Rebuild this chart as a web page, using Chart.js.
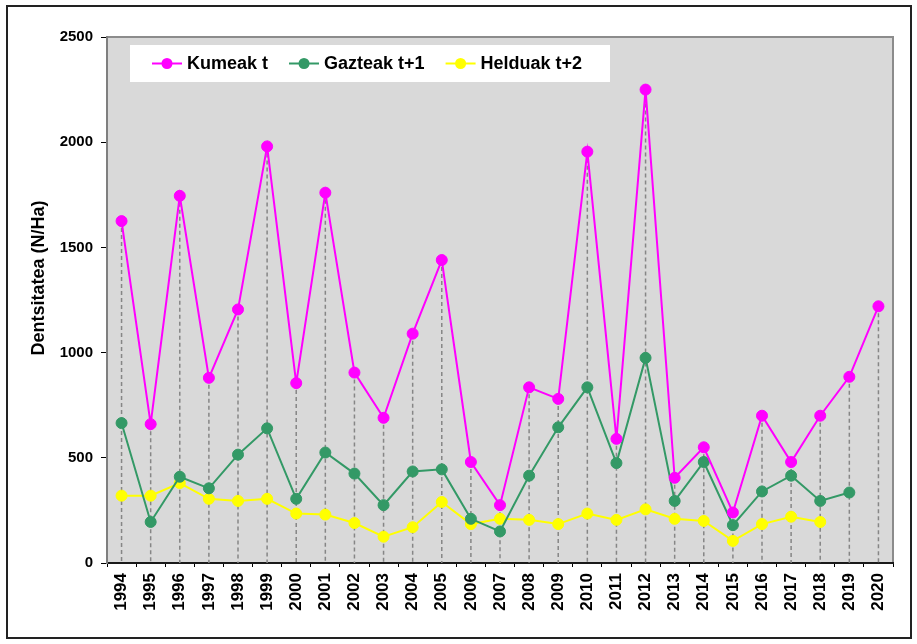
<!DOCTYPE html>
<html>
<head>
<meta charset="utf-8">
<script src="https://cdn.jsdelivr.net/npm/chart.js@4.4.1/dist/chart.umd.min.js"></script>
<style>
  html, body { margin: 0; padding: 0; background: #fff; }
  #wrap { width: 917px; height: 644px; }
</style>
</head>
<body>
<div id="wrap"><canvas id="myChart" width="917" height="644"></canvas></div>
<script>
let years = ["1994", "1995", "1996", "1997", "1998", "1999", "2000", "2001", "2002",
  "2003", "2004", "2005", "2006", "2007", "2008", "2009", "2010", "2011", "2012",
  "2013", "2014", "2015", "2016", "2017", "2018", "2019", "2020"];

let kumeak = [1625, 660, 1745, 880, 1205, 1980, 855, 1760, 905, 690, 1090, 1440, 480,
  275, 835, 780, 1955, 590, 2250, 405, 550, 240, 700, 480, 700, 885, 1220];
let gazteak = [665, 195, 410, 355, 515, 640, 305, 525, 425, 275, 435, 445, 210,
  150, 415, 645, 835, 475, 975, 295, 480, 180, 340, 415, 295, 335, null];
let helduak = [320, 320, 380, 305, 295, 305, 235, 230, 190, 125, 170, 290, 185,
  210, 205, 185, 235, 205, 255, 210, 200, 105, 185, 220, 195, null, null];

let seriesNames = ["Kumeak t", "Gazteak t+1", "Helduak t+2"];
let yTicks = [0, 500, 1000, 1500, 2000, 2500];
let yTitle = "Dentsitatea (N/Ha)";

const FONT = '"Liberation Sans", Arial, Helvetica, sans-serif';

// background, outer frame and grey plot area
const framePlugin = {
  id: "frame",
  beforeDraw(chart) {
    const ctx = chart.ctx, a = chart.chartArea;
    ctx.save();
    ctx.fillStyle = "#fff";
    ctx.fillRect(0, 0, chart.width, chart.height);
    ctx.strokeStyle = "#222";
    ctx.lineWidth = 2;
    ctx.strokeRect(7, 6, chart.width - 13, chart.height - 12);
    ctx.fillStyle = "#d9d9d9";
    ctx.fillRect(a.left, a.top, a.right - a.left, a.bottom - a.top);
    ctx.strokeStyle = "#8c8c8c";
    ctx.lineWidth = 2;
    ctx.strokeRect(a.left, a.top, a.right - a.left, a.bottom - a.top);
    ctx.restore();
  }
};

// dashed drop lines from the highest point of each year down to the axis
const dropLines = {
  id: "dropLines",
  beforeDatasetsDraw(chart) {
    const ctx = chart.ctx, x = chart.scales.x, y = chart.scales.y;
    ctx.save();
    ctx.strokeStyle = "#868686";
    ctx.lineWidth = 1.5;
    ctx.setLineDash([4, 3]);
    years.forEach((yr, i) => {
      let vals = chart.data.datasets.map(d => d.data[i]).filter(v => v != null);
      if (!vals.length) return;
      let px = x.getPixelForValue(i);
      ctx.beginPath();
      ctx.moveTo(px, y.getPixelForValue(Math.max(...vals)));
      ctx.lineTo(px, chart.chartArea.bottom);
      ctx.stroke();
    });
    ctx.restore();
  }
};

// legend box inside the plot + rotated y title
const legendBox = {
  id: "legendBox",
  afterDatasetsDraw(chart) {
    const ctx = chart.ctx, a = chart.chartArea;
    const bx = a.left + 23, by = a.top + 8, bw = 480, bh = 37;
    const cy = by + bh / 2;
    ctx.save();
    ctx.fillStyle = "#fff";
    ctx.fillRect(bx, by, bw, bh);
    ctx.font = "bold 18px " + FONT;
    ctx.textBaseline = "middle";
    ctx.textAlign = "left";
    let sx = bx + 22;
    chart.data.datasets.forEach(ds => {
      ctx.strokeStyle = ds.borderColor;
      ctx.lineWidth = 2;
      ctx.beginPath();
      ctx.moveTo(sx, cy);
      ctx.lineTo(sx + 30, cy);
      ctx.stroke();
      ctx.fillStyle = ds.pointBackgroundColor;
      ctx.beginPath();
      ctx.arc(sx + 15, cy, 5.5, 0, Math.PI * 2);
      ctx.fill();
      ctx.fillStyle = "#000";
      ctx.fillText(ds.label, sx + 35, cy + 1);
      sx += 35 + ctx.measureText(ds.label).width + 21;
    });
    ctx.restore();
  },
  afterDraw(chart) {
    const ctx = chart.ctx;
    ctx.save();
    ctx.translate(39, 278);
    ctx.rotate(-Math.PI / 2);
    ctx.font = "bold 18px " + FONT;
    ctx.fillStyle = "#000";
    ctx.textAlign = "center";
    ctx.textBaseline = "middle";
    ctx.fillText(yTitle, 0, 0);
    ctx.restore();
  }
};

function mkSeries(label, data, color) {
  return {
    label: label,
    data: data,
    borderColor: color,
    backgroundColor: color,
    pointBackgroundColor: color,
    pointBorderColor: color,
    borderWidth: 2,
    pointRadius: 5.5,
    pointBorderWidth: 1,
    tension: 0,
    fill: false
  };
}

var ctx = document.getElementById("myChart").getContext("2d");
var myChart = new Chart(ctx, {
  type: "line",
  data: {
    labels: years,
    datasets: [
      mkSeries(seriesNames[0], kumeak, "#ff00ff"),
      mkSeries(seriesNames[1], gazteak, "#339966"),
      mkSeries(seriesNames[2], helduak, "#ffff00")
    ]
  },
  options: {
    responsive: false,
    animation: false,
    devicePixelRatio: 1,
    layout: { padding: { top: 37, right: 24, left: 0, bottom: 0 } },
    plugins: {
      legend: { display: false },
      tooltip: { enabled: false }
    },
    scales: {
      x: {
        type: "category",
        offset: true,
        grid: { offset: true, drawOnChartArea: false, drawTicks: true, tickLength: 4, color: "#000" },
        border: { color: "#1a1a1a", width: 2 },
        ticks: {
          autoSkip: false, minRotation: 90, maxRotation: 90, padding: 6, color: "#000",
          font: { family: FONT, size: 17, weight: "bold" }
        },
        afterFit(s) { s.height = 81; }
      },
      y: {
        min: 0,
        max: 2500,
        afterBuildTicks(s) { s.ticks = yTicks.map(v => ({ value: v })); },
        grid: { drawOnChartArea: false, tickLength: 6, color: "#000" },
        border: { color: "#7f7f7f", width: 2 },
        ticks: {
          padding: 8, color: "#000", font: { family: FONT, size: 15, weight: "bold" },
          callback: (v) => String(v)
        },
        afterFit(s) { s.width = 107; }
      }
    }
  },
  plugins: [framePlugin, dropLines, legendBox]
});
</script>
</body>
</html>
